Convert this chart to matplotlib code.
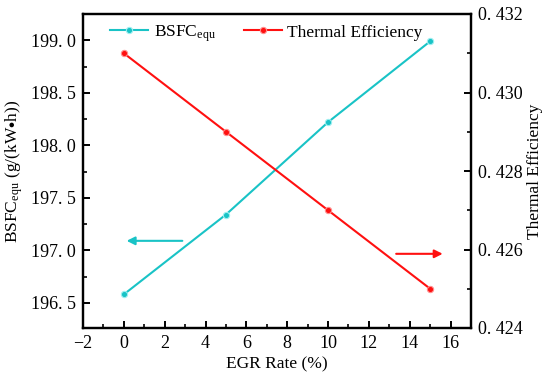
import matplotlib.pyplot as plt
from matplotlib.ticker import FuncFormatter, MultipleLocator

# --- DATA ---
egr_rate = [0, 5, 10, 15]
bsfc_equ = [196.58, 197.34, 198.22, 198.99]
thermal_eff = [0.4310, 0.4290, 0.4270, 0.4250]

CYAN = '#19C3C6'
RED = '#FF1010'

plt.rcParams['font.family'] = ['Liberation Serif', 'DejaVu Serif']
plt.rcParams['mathtext.fontset'] = 'stix'

fig = plt.figure(figsize=(5.5, 3.87), dpi=100)
ax = fig.add_axes([83 / 550, 59 / 387, 388 / 550, 314 / 387])
ax2 = ax.twinx()

l1, = ax.plot(egr_rate, bsfc_equ, color=CYAN, lw=1.5, marker='o', ms=4.5,
              mfc=CYAN, mec='#9EEFF0', mew=0.8, label=r'BSFC$_{\mathregular{equ}}$')
l2, = ax2.plot(egr_rate, thermal_eff, color=RED, lw=1.5, marker='o', ms=4.5,
               mfc=RED, mec='#FF9090', mew=0.8, label='Thermal Efficiency')

ax.set_xlim(-2, 17)
ax.set_ylim(196.26, 199.25)
ax2.set_ylim(0.424, 0.432)

ax.xaxis.set_major_locator(MultipleLocator(2))
ax.xaxis.set_minor_locator(MultipleLocator(1))
ax.yaxis.set_major_locator(MultipleLocator(0.5))
ax.yaxis.set_minor_locator(MultipleLocator(0.25))
ax2.yaxis.set_major_locator(MultipleLocator(0.002))
ax2.yaxis.set_minor_locator(MultipleLocator(0.001))

ax.xaxis.set_major_formatter(FuncFormatter(lambda v, p: f'{v:.0f}'.replace('-', '\u2212')))
ax.yaxis.set_major_formatter(FuncFormatter(lambda v, p: f'{v:.1f}'.replace('.', '. ')))
ax2.yaxis.set_major_formatter(FuncFormatter(lambda v, p: f'{v:.3f}'.replace('.', '. ')))

for a in (ax, ax2):
    for s in a.spines.values():
        s.set_linewidth(1.6)
    a.tick_params(which='major', direction='in', length=5, width=1.4, labelsize=13, pad=5)
    a.tick_params(which='minor', direction='in', length=3, width=1.2)

ax.set_xlabel('EGR Rate (%)', fontsize=12.5, labelpad=3)
ax.set_ylabel(r'BSFC$_{\mathregular{equ}}$ (g/(kW$\bullet$h))', fontsize=12.5)
ax2.set_ylabel('Thermal Efficiency', fontsize=12.5, labelpad=3)

# direction arrows
ax.annotate('', xy=(0.0, 197.09), xytext=(3.0, 197.09),
            arrowprops=dict(arrowstyle='-|>', color=CYAN, lw=1.5, mutation_scale=12))
ax2.annotate('', xy=(15.75, 0.42589), xytext=(13.2, 0.42589),
             arrowprops=dict(arrowstyle='-|>', color=RED, lw=1.5, mutation_scale=12))

ax.legend(handles=[l1, l2], loc='upper left', ncol=2, frameon=False, fontsize=12.5,
          bbox_to_anchor=(0.03, 1.02), handlelength=2.2, handletextpad=0.3,
          columnspacing=1.6)

fig.savefig('out.png', dpi=100)
